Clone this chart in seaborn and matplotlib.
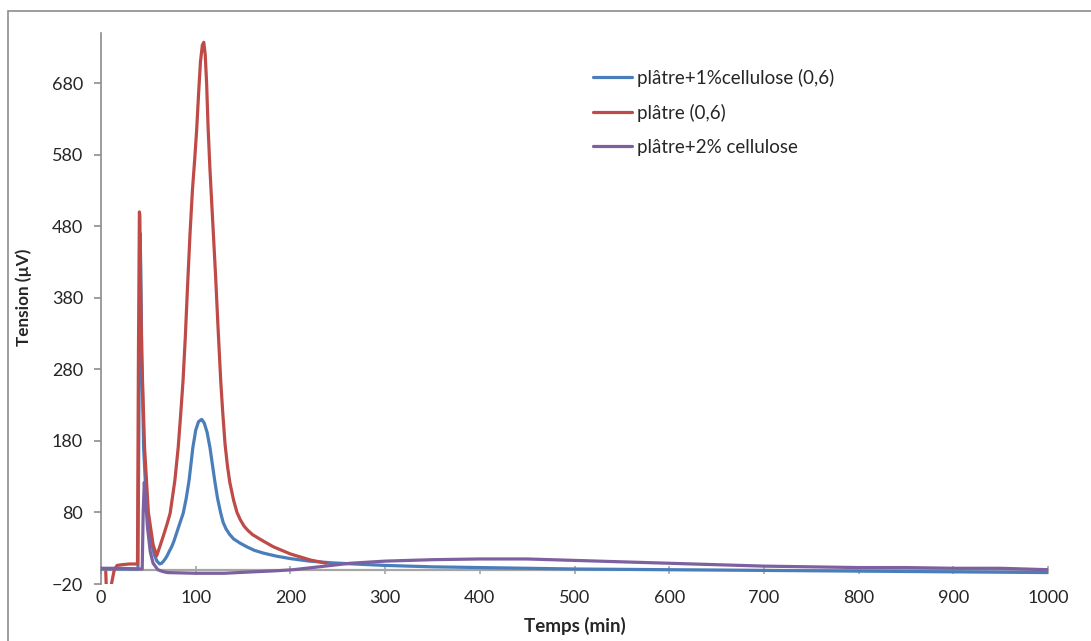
import numpy as np
import pandas as pd
import matplotlib
matplotlib.use("Agg")
import matplotlib.pyplot as plt
import matplotlib.patches as mpatches
import seaborn as sns

# ---- data ----
t_blue = [0, 10, 20, 30, 39, 40.2, 41.2, 42, 43, 45, 48, 52, 56, 59, 62, 64, 66, 68, 70, 72,
          74.6, 77, 80, 83, 86.8, 90, 93, 97, 100, 103, 106.3, 109, 112, 115, 117.5, 120,
          123, 126.4, 129, 132, 136, 140, 147, 154, 162, 172, 185, 200, 220, 245, 275, 300,
          350, 400, 500, 600, 700, 800, 900, 1000]
v_blue = [1, 1, 1, 1, 1, 250, 470, 420, 300, 170, 90, 45, 22, 12, 8, 9, 12, 15.5, 20, 25.5,
          32, 40, 52, 64, 79, 100, 125, 171, 195, 207, 210, 205, 192, 171, 148, 125,
          100, 79, 66, 57, 49, 43, 37, 32, 27, 23, 19, 15.5, 12, 9.5, 7.5, 6,
          4, 3, 1, 0, -1, -2, -3, -4]

t_red = [5, 6.5, 9, 11, 14, 17, 22, 30, 38.5, 39.5, 40.5, 41, 41.5, 43, 46, 50, 55, 58.8, 62, 66,
         70, 73, 78, 81.5, 84, 86.6, 89, 91.5, 94, 96.5, 99, 101, 103, 105, 107, 108.5, 110,
         111.5, 113, 115, 117, 119, 121, 123.5, 126.4, 128.5, 131, 133.5, 136, 140, 143.6, 147,
         151, 155, 160, 170, 182, 200, 221, 238]
v_red = [-3, -60, -60, -20, 0, 6, 7, 8, 8, 300, 500, 495, 420, 300, 170, 80, 35, 19.5, 32, 48,
         65, 79, 125, 171, 215, 264, 325, 400, 470, 530, 575, 615, 665, 710, 733, 737, 720,
         680, 620, 560, 510, 460, 410, 340, 264, 220, 175, 145, 122, 97, 80, 70,
         61, 55, 49, 41, 32, 22, 13.6, 9]

t_purple = [0, 10, 20, 30, 40, 43.5, 44.5, 45.7, 47, 49, 52, 55, 60, 65, 70, 85, 100, 130, 160,
            185, 203, 230, 263, 300, 350, 400, 450, 500, 550, 600, 650, 700, 750, 800, 850, 900,
            950, 1000]
v_purple = [2, 2, 2, 1.5, 1, 1, 80, 122, 100, 60, 25, 9, 0, -2.5, -4, -4.5, -5, -5, -3,
            -1.5, 0, 4, 9, 12, 14, 15, 15, 13, 11, 9, 7, 5, 4, 3, 3, 2,
            2, 0]

labels = ["plâtre+1%cellulose (0,6)", "plâtre (0,6)", "plâtre+2% cellulose"]
colors = ["#4A7EBB", "#BE4B48", "#7D60A0"]
y_ticks = [-20, 80, 180, 280, 380, 480, 580, 680]
x_ticks = [0, 100, 200, 300, 400, 500, 600, 700, 800, 900, 1000]

sns.set_style("white")
plt.rcParams["font.family"] = ["Lato", "DejaVu Sans"]

fig = plt.figure(figsize=(10.91, 6.41), dpi=100)
ax = fig.add_axes([0.0926, 0.0889, 0.868, 0.8596])

series = [(t_blue, v_blue), (t_red, v_red), (t_purple, v_purple)]
for (tt, vv), lab, col in zip(series, labels, colors):
    df = pd.DataFrame({"t": tt, "v": vv})
    sns.lineplot(data=df, x="t", y="v", ax=ax, color=col, lw=2.3, label=lab,
                 sort=False, estimator=None, zorder=3)

ymin, ymax = -20, 750
ax.set_xlim(0, 1000)
ax.set_ylim(ymin, ymax)
ax.set_yticks(y_ticks)
ax.set_xticks(x_ticks)

for s in ["top", "right", "bottom"]:
    ax.spines[s].set_visible(False)
ax.spines["left"].set_color("#8C8C8C")
ax.spines["left"].set_linewidth(1.2)
ax.tick_params(axis="y", direction="out", length=5, color="#8C8C8C", width=1.2,
               labelsize=13, pad=8, left=True)
ax.tick_params(axis="x", length=0, labelsize=13, pad=4, bottom=True)

# zero line with tick marks
sec = ax.secondary_xaxis((0 - ymin) / (ymax - ymin))
sec.set_xticks(x_ticks)
sec.set_xticklabels([])
sec.spines["bottom"].set_color("#A6A6A6")
sec.spines["bottom"].set_linewidth(1.6)
sec.tick_params(axis="x", direction="inout", length=6, color="#A6A6A6", width=1.2)
sec.set_zorder(1)

ax.set_xlabel("Temps (min)", fontsize=13.5, fontweight="bold", labelpad=8)
ax.set_ylabel("Tension (µV)", fontsize=12.3, fontweight="bold")
ax.yaxis.set_label_coords(-0.073, 0.521)

leg = ax.legend(loc="upper left", bbox_to_anchor=(0.5195, 0.9347), frameon=False,
                fontsize=13.5, handlelength=2.1, handletextpad=0.27, labelspacing=0.9,
                borderpad=0, borderaxespad=0)
for h in leg.get_lines():
    h.set_linewidth(2.3)

# chart area border
rect = mpatches.Rectangle((8 / 1091, -0.1), 1.2, 1.1 - 11 / 641,
                          transform=fig.transFigure, fill=False, edgecolor="#8C8C8C",
                          linewidth=1.2, clip_on=False)
fig.patches.append(rect)

fig.savefig("out.png", dpi=100)
